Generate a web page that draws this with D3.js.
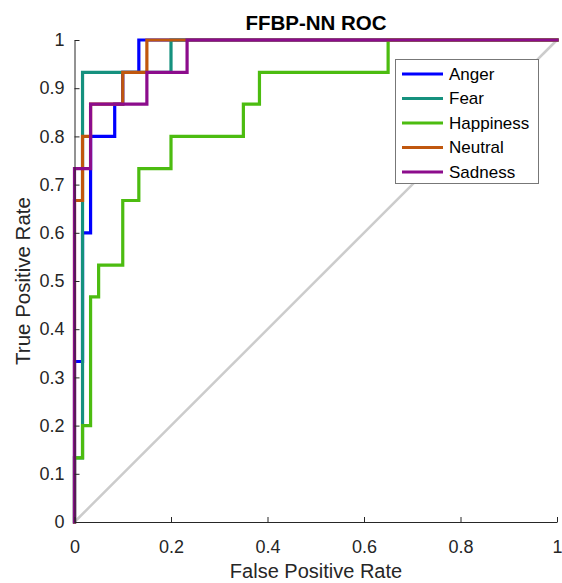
<!DOCTYPE html>
<html><head><meta charset="utf-8">
<script src="https://cdn.jsdelivr.net/npm/d3@7"></script>
<style>body{margin:0;background:#fff;} svg{display:block;font-family:"Liberation Sans",Arial,sans-serif;}</style>
</head><body>
<svg id="c" width="562" height="583"></svg>
<script>
const classes = ["Anger","Fear","Happiness","Neutral","Sadness"];
const colors = ["#0000ff","#15917e","#4cbc10","#c0570e","#8c0c8c"];
// ROC step points [FPR, TPR]
const anger = [[0,0],[0,0.333],[1/60,0.333],[1/60,0.6],[2/60,0.6],[2/60,0.8],[5/60,0.8],[5/60,0.867],[6/60,0.867],[6/60,0.933],[8/60,0.933],[8/60,1],[1,1]];
const fear = [[0,0],[0,0.133],[1/60,0.133],[1/60,0.933],[12/60,0.933],[12/60,1],[1,1]];
const happiness = [[0,0],[0,0.133],[1/60,0.133],[1/60,0.2],[2/60,0.2],[2/60,0.467],[3/60,0.467],[3/60,0.533],[6/60,0.533],[6/60,0.667],[8/60,0.667],[8/60,0.733],[12/60,0.733],[12/60,0.8],[21/60,0.8],[21/60,0.867],[23/60,0.867],[23/60,0.933],[39/60,0.933],[39/60,1],[1,1]];
const neutral = [[0,0],[0,0.667],[1/60,0.667],[1/60,0.8],[2/60,0.8],[2/60,0.867],[6/60,0.867],[6/60,0.933],[9/60,0.933],[9/60,1],[1,1]];
const sadness = [[0,0],[0,0.733],[2/60,0.733],[2/60,0.867],[9/60,0.867],[9/60,0.933],[14/60,0.933],[14/60,1],[1,1]];
const series = [anger, fear, happiness, neutral, sadness];
const xTicks = [0,0.2,0.4,0.6,0.8,1];
const yTicks = [0,0.1,0.2,0.3,0.4,0.5,0.6,0.7,0.8,0.9,1];

const svg = d3.select("#c");
const x = d3.scaleLinear().domain([0,1]).range([74.5,557]);
const y = d3.scaleLinear().domain([0,1]).range([522,40]);

// diagonal
svg.append("line").attr("x1",x(0)).attr("y1",y(0)).attr("x2",x(1)).attr("y2",y(1))
  .attr("stroke","#cccccc").attr("stroke-width",2.5);

const line = d3.line().x(d=>x(d[0])).y(d=>y(d[1]));
series.forEach((s,i)=>{
  svg.append("path").attr("d",line(s)).attr("fill","none")
    .attr("stroke",colors[i]).attr("stroke-width",3.2).attr("stroke-linejoin","miter").attr("stroke-linecap","square");
});

// axes
const ax = svg.append("g").attr("transform",`translate(0,${y(0)})`)
  .call(d3.axisBottom(x).tickValues(xTicks).tickFormat(d=>d3.format("")(d)).tickSizeInner(-5).tickSizeOuter(0).tickPadding(18));
const ay = svg.append("g").attr("transform",`translate(${x(0)},0)`)
  .call(d3.axisLeft(y).tickValues(yTicks).tickFormat(d=>d3.format("")(+d.toFixed(1))).tickSizeInner(-5).tickSizeOuter(0).tickPadding(10));
[ax,ay].forEach(g=>{
  g.select(".domain").attr("stroke","#262626").attr("stroke-width",1);
  g.selectAll(".tick line").attr("stroke","#262626");
  g.selectAll(".tick text").attr("fill","#262626").style("font-size","18px").style("font-family","Liberation Sans, Arial, sans-serif");
});

// title & labels
svg.append("text").attr("x",316).attr("y",30).attr("text-anchor","middle")
  .style("font-weight","bold").style("font-size","20.5px").attr("fill","#000").text("FFBP-NN ROC");
svg.append("text").attr("x",316).attr("y",578).attr("text-anchor","middle")
  .style("font-size","20px").attr("fill","#262626").text("False Positive Rate");
svg.append("text").attr("transform","translate(30,281) rotate(-90)").attr("text-anchor","middle")
  .style("font-size","20.5px").attr("fill","#262626").text("True Positive Rate");

// legend
const lg = svg.append("g");
lg.append("rect").attr("x",395.5).attr("y",59.5).attr("width",143).attr("height",124)
  .attr("fill","#fff").attr("stroke","#777").attr("stroke-width",1);
classes.forEach((c,i)=>{
  const cy = 74 + i*24.5;
  lg.append("line").attr("x1",402).attr("x2",443).attr("y1",cy).attr("y2",cy)
    .attr("stroke",colors[i]).attr("stroke-width",3.2);
  lg.append("text").attr("x",449).attr("y",cy).attr("dy","0.35em")
    .style("font-size","17px").attr("fill","#000").text(c);
});
</script>
</body></html>
